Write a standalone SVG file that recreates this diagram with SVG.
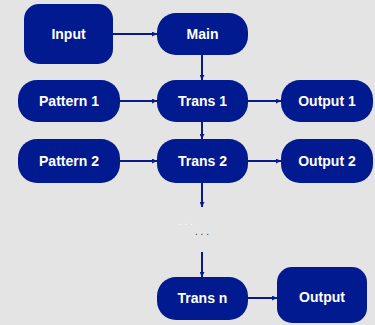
<svg xmlns="http://www.w3.org/2000/svg" width="375" height="325" viewBox="0 0 375 325">
  <style>
    .box { fill: #021a8f; }
    .lbl { fill: #ffffff; font-family: "Liberation Sans", Arial, sans-serif; font-weight: bold; font-size: 14px; text-anchor: middle; dominant-baseline: central; }
    .edge { stroke: #0a1a8c; stroke-width: 2; fill: none; marker-end: url(#arr); }
  </style>
  <defs>
    <marker id="arr" viewBox="0 0 10 10" refX="10" refY="5" markerWidth="5" markerHeight="5" orient="auto" markerUnits="userSpaceOnUse">
      <path d="M0,0 L10,5 L0,10 z" fill="#0a1a8c"/>
    </marker>
  </defs>
  <rect width="375" height="325" fill="#e4e4e4"/>

  <g id="connectors">
    <line class="edge" x1="113" y1="34" x2="157" y2="34"/>
    <line class="edge" x1="202" y1="55" x2="202" y2="80"/>
    <line class="edge" x1="120" y1="101" x2="157" y2="101"/>
    <line class="edge" x1="248" y1="101" x2="281" y2="101"/>
    <line class="edge" x1="202" y1="122" x2="202" y2="139"/>
    <line class="edge" x1="120" y1="161" x2="157" y2="161"/>
    <line class="edge" x1="248" y1="161" x2="281" y2="161"/>
    <line class="edge" x1="202" y1="183" x2="202" y2="207"/>
    <line class="edge" x1="202" y1="252" x2="202" y2="277"/>
    <line class="edge" x1="248" y1="298" x2="277" y2="298"/>
  </g>

  <g id="ellipsis">
    <text x="186" y="221" fill="#ffffff" font-family="Liberation Sans, sans-serif" font-size="10" text-anchor="middle" dominant-baseline="central">. . .</text>
    <text x="202" y="231" fill="#333333" font-family="Liberation Sans, sans-serif" font-size="10" text-anchor="middle" dominant-baseline="central">. . .</text>
  </g>

  <g id="input"><rect class="box" x="24" y="4" width="89" height="60" rx="15"/><text class="lbl" x="68.5" y="34">Input</text></g>
  <g id="main"><rect class="box" x="157" y="13" width="91" height="42" rx="19"/><text class="lbl" x="202.5" y="34">Main</text></g>
  <g id="pattern1"><rect class="box" x="18" y="80" width="102" height="42" rx="19"/><text class="lbl" x="69" y="101">Pattern 1</text></g>
  <g id="trans1"><rect class="box" x="157" y="80" width="91" height="42" rx="19"/><text class="lbl" x="202.5" y="101">Trans 1</text></g>
  <g id="output1"><rect class="box" x="281" y="80" width="92" height="42" rx="19"/><text class="lbl" x="327" y="101">Output 1</text></g>
  <g id="pattern2"><rect class="box" x="18" y="139" width="102" height="44" rx="19"/><text class="lbl" x="69" y="161">Pattern 2</text></g>
  <g id="trans2"><rect class="box" x="157" y="139" width="91" height="44" rx="19"/><text class="lbl" x="202.5" y="161">Trans 2</text></g>
  <g id="output2"><rect class="box" x="281" y="139" width="92" height="44" rx="19"/><text class="lbl" x="327" y="161">Output 2</text></g>
  <g id="transn"><rect class="box" x="157" y="277" width="91" height="43" rx="19"/><text class="lbl" x="202.5" y="298">Trans n</text></g>
  <g id="output"><rect class="box" x="277" y="267" width="90" height="56" rx="15"/><text class="lbl" x="322" y="297">Output</text></g>
</svg>
